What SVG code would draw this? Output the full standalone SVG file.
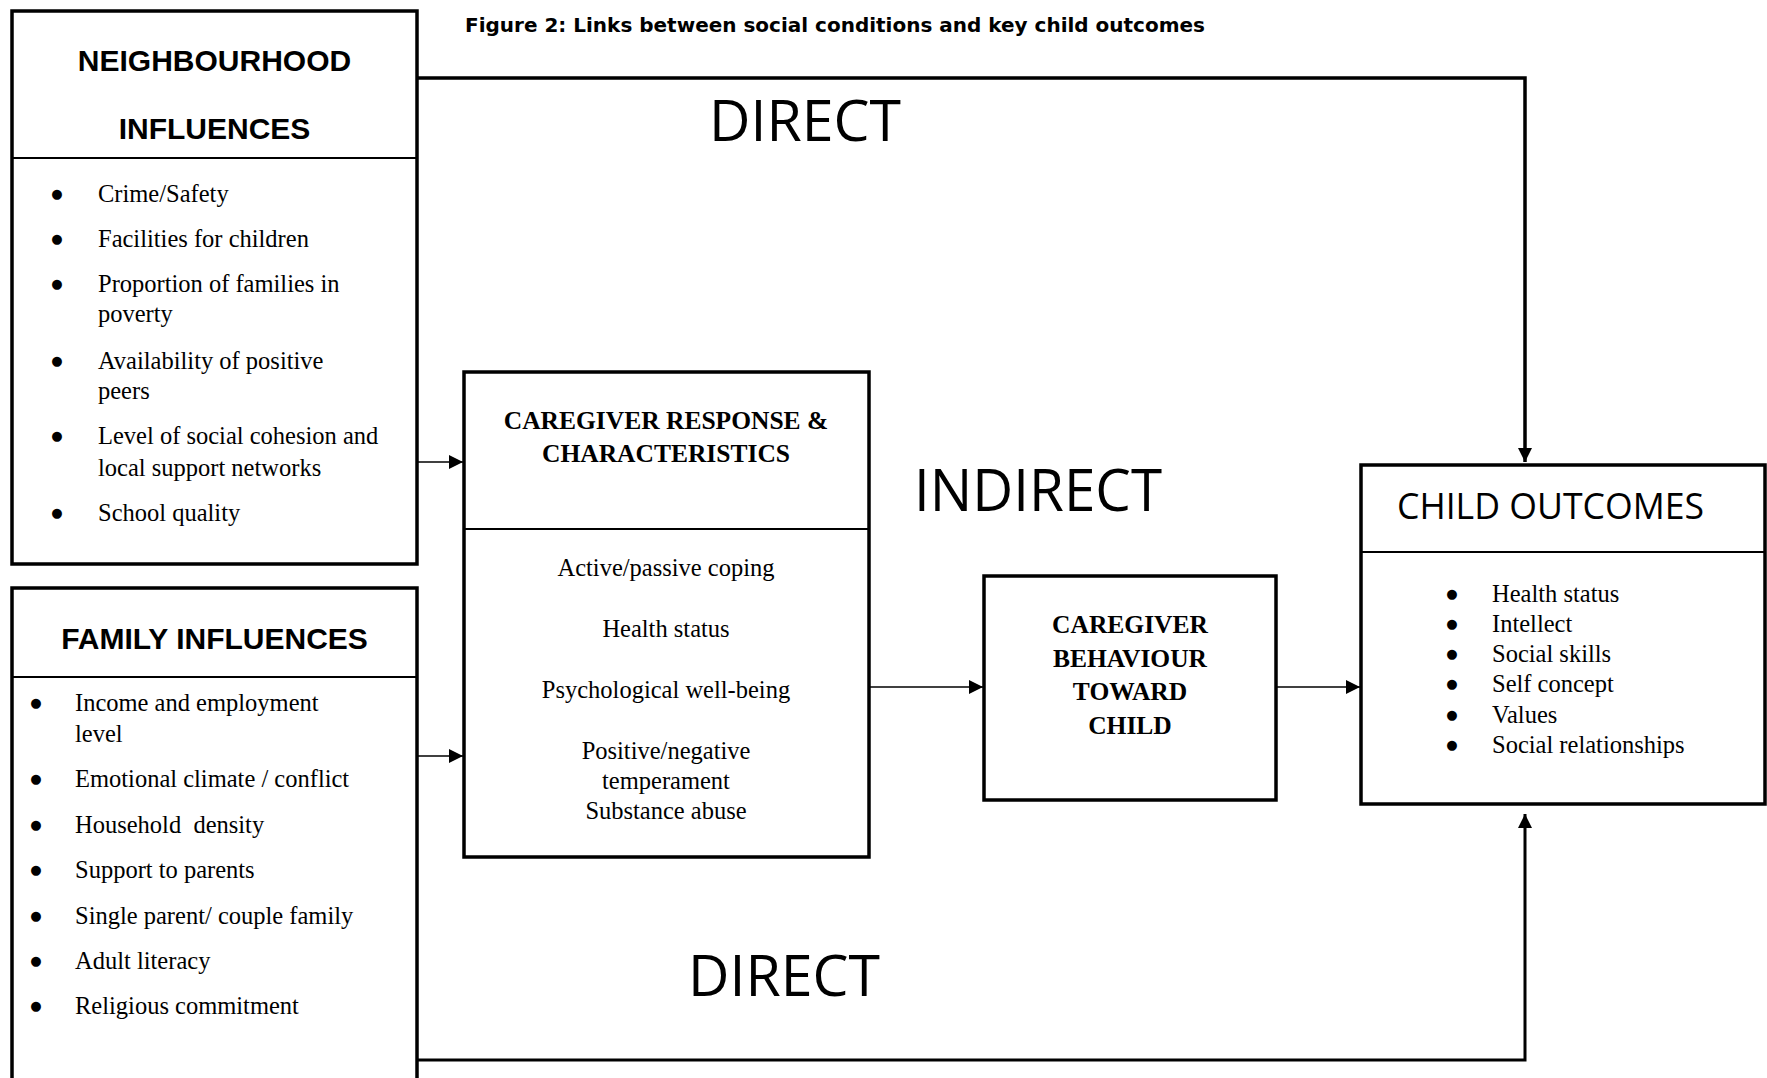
<svg xmlns="http://www.w3.org/2000/svg" width="1767" height="1078" viewBox="0 0 1767 1078">
<style>
.box{fill:#fff;stroke:#000;stroke-width:3.5}
.div{stroke:#000;stroke-width:2;fill:none}
.hs{font-family:"Liberation Sans",Arial,sans-serif;font-weight:bold;font-size:30px;fill:#000}
.sr{font-family:"Liberation Serif","Times New Roman",serif;font-size:24.5px;fill:#000}
.sr .b{font-family:"DejaVu Sans",sans-serif;font-size:13px;text-anchor:middle}
.srb{font-family:"Liberation Serif","Times New Roman",serif;font-size:25.5px;font-weight:bold;fill:#000}
.big{font-family:"Open Sans","Noto Sans",sans-serif;fill:#000}
.title{font-family:"DejaVu Sans",Verdana,sans-serif;font-weight:bold;font-size:19px;fill:#000}
.c{stroke:#000;fill:none}
</style>
<defs>
<marker id="arr" markerUnits="userSpaceOnUse" markerWidth="14" markerHeight="14" refX="14" refY="7" orient="auto">
<path d="M0,0 L14,7 L0,14 z" fill="#000"/>
</marker>
</defs>
<rect width="1767" height="1078" fill="#fff"/>

<text class="title" x="465" y="32" textLength="740" lengthAdjust="spacingAndGlyphs">Figure 2: Links between social conditions and key child outcomes</text>

<g id="connectors">
<polyline class="c" stroke-width="3.5" points="417,78 1525,78 1525,462" marker-end="url(#arr)"/>
<polyline class="c" stroke-width="3" points="417,1060 1525,1060 1525,814" marker-end="url(#arr)"/>
<line class="c" stroke-width="1.6" x1="417" y1="462" x2="463" y2="462" marker-end="url(#arr)"/>
<line class="c" stroke-width="1.6" x1="417" y1="756" x2="463" y2="756" marker-end="url(#arr)"/>
<line class="c" stroke-width="1.6" x1="870" y1="687" x2="983" y2="687" marker-end="url(#arr)"/>
<line class="c" stroke-width="1.6" x1="1277" y1="687" x2="1360" y2="687" marker-end="url(#arr)"/>
<text class="big" x="709" y="141" font-size="56" textLength="192" lengthAdjust="spacingAndGlyphs">DIRECT</text>
<text class="big" x="688" y="996" font-size="56" textLength="192" lengthAdjust="spacingAndGlyphs">DIRECT</text>
<text class="big" x="914" y="511" font-size="59" textLength="248" lengthAdjust="spacingAndGlyphs">INDIRECT</text>
</g>

<g id="neighbourhood">
<rect class="box" x="12" y="11" width="405" height="553"/>
<line class="div" x1="12" y1="158" x2="417" y2="158"/>
<text class="hs" x="214.5" y="71" text-anchor="middle">NEIGHBOURHOOD</text>
<text class="hs" x="214.5" y="139" text-anchor="middle">INFLUENCES</text>
<g class="sr">
<text class="b" x="57" y="198">●</text><text x="98" y="202">Crime/Safety</text>
<text class="b" x="57" y="243">●</text><text x="98" y="247">Facilities for children</text>
<text class="b" x="57" y="288">●</text><text x="98" y="292">Proportion of families in</text>
<text x="98" y="322">poverty</text>
<text class="b" x="57" y="365">●</text><text x="98" y="369">Availability of positive</text>
<text x="98" y="399">peers</text>
<text class="b" x="57" y="440">●</text><text x="98" y="444">Level of social cohesion and</text>
<text x="98" y="476">local support networks</text>
<text class="b" x="57" y="517">●</text><text x="98" y="521">School quality</text>
</g>
</g>

<g id="family">
<rect class="box" x="12" y="588" width="405" height="520"/>
<line class="div" x1="12" y1="677" x2="417" y2="677"/>
<text class="hs" x="214.5" y="649" text-anchor="middle">FAMILY INFLUENCES</text>
<g class="sr">
<text class="b" x="36" y="707">●</text><text x="75" y="711">Income and employment</text>
<text x="75" y="742">level</text>
<text class="b" x="36" y="783">●</text><text x="75" y="787">Emotional climate / conflict</text>
<text class="b" x="36" y="829">●</text><text x="75" y="833" xml:space="preserve">Household  density</text>
<text class="b" x="36" y="874">●</text><text x="75" y="878">Support to parents</text>
<text class="b" x="36" y="920">●</text><text x="75" y="924">Single parent/ couple family</text>
<text class="b" x="36" y="965">●</text><text x="75" y="969">Adult literacy</text>
<text class="b" x="36" y="1010">●</text><text x="75" y="1014">Religious commitment</text>
</g>
</g>

<g id="caregiver-response">
<rect class="box" x="464" y="372" width="405" height="485"/>
<line class="div" x1="464" y1="529" x2="869" y2="529"/>
<text class="srb" x="666" y="429" text-anchor="middle">CAREGIVER RESPONSE &amp;</text>
<text class="srb" x="666" y="462" text-anchor="middle">CHARACTERISTICS</text>
<g class="sr" text-anchor="middle">
<text x="666" y="576">Active/passive coping</text>
<text x="666" y="637">Health status</text>
<text x="666" y="698">Psychological well-being</text>
<text x="666" y="759">Positive/negative</text>
<text x="666" y="789">temperament</text>
<text x="666" y="819">Substance abuse</text>
</g>
</g>

<g id="caregiver-behaviour">
<rect class="box" x="984" y="576" width="292" height="224"/>
<g class="srb" text-anchor="middle">
<text x="1130" y="633">CAREGIVER</text>
<text x="1130" y="667">BEHAVIOUR</text>
<text x="1130" y="700">TOWARD</text>
<text x="1130" y="734">CHILD</text>
</g>
</g>

<g id="child-outcomes">
<rect class="box" x="1361" y="465" width="404" height="339"/>
<line class="div" x1="1361" y1="552" x2="1765" y2="552"/>
<text class="big" x="1397" y="519" font-size="36" textLength="307" lengthAdjust="spacingAndGlyphs">CHILD OUTCOMES</text>
<g class="sr">
<text class="b" x="1452" y="598">●</text><text x="1492" y="602">Health status</text>
<text class="b" x="1452" y="628">●</text><text x="1492" y="632">Intellect</text>
<text class="b" x="1452" y="658">●</text><text x="1492" y="662">Social skills</text>
<text class="b" x="1452" y="688">●</text><text x="1492" y="692">Self concept</text>
<text class="b" x="1452" y="719">●</text><text x="1492" y="723">Values</text>
<text class="b" x="1452" y="749">●</text><text x="1492" y="753">Social relationships</text>
</g>
</g>
</svg>
